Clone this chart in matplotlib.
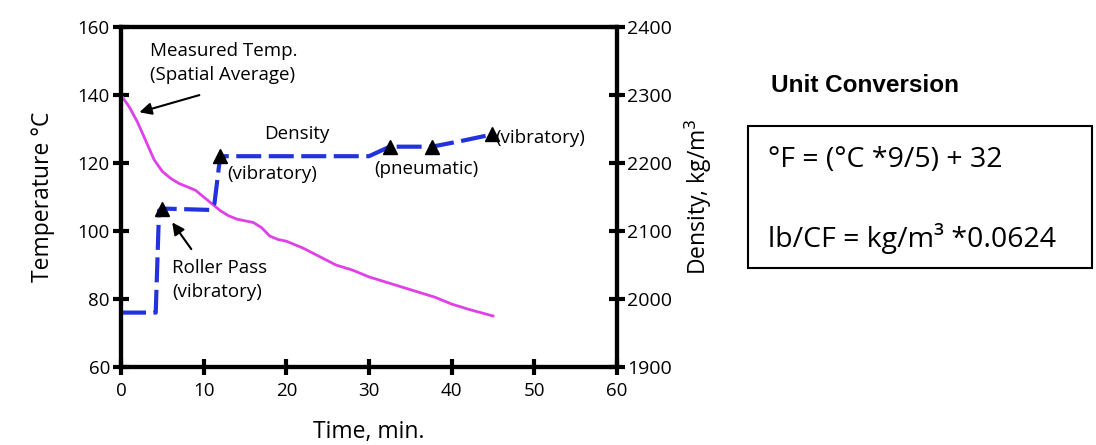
import matplotlib
matplotlib.use("Agg")
import matplotlib.pyplot as plt
from matplotlib.patches import Rectangle

plt.rcParams['font.family'] = ['Open Sans', 'DejaVu Sans']

# temperature (spatial average), deg C
time_temp = [0, 1, 2, 3, 4, 5, 6, 7, 8, 9, 10, 11, 12, 13, 14, 15, 16, 17, 18,
             19, 20, 22, 24, 26, 28, 30, 32, 34, 36, 38, 40, 42, 45]
temp = [140, 136.5, 132, 126.5, 121, 117.5, 115.5, 114, 113, 112, 110, 108,
        106, 104.5, 103.5, 103, 102.5, 101, 98.5, 97.5, 97, 95, 92.5, 90,
        88.5, 86.5, 85, 83.5, 82, 80.5, 78.5, 77, 75]

# density, kg/m3
time_dens = [0, 4.2, 4.6, 5.0, 10.8, 11.3, 12.0, 30.0, 32.5, 37.6, 41.0, 44.9]
dens = [1980, 1980, 2130, 2133, 2131, 2140, 2210, 2210, 2224, 2224, 2232, 2242]

# roller passes
pass_time = [5.0, 12.0, 32.5, 37.6, 44.9]
pass_dens = [2133, 2210, 2224, 2224, 2242]

fig = plt.figure(figsize=(10.96, 4.45), dpi=100)
ax = fig.add_axes([0.1104, 0.1753, 0.4526, 0.764])
ax2 = ax.twinx()

ax.plot(time_temp, temp, color="#e040e8", lw=2, zorder=3)
ax2.plot(time_dens, dens, color="#2233dd", lw=3, dashes=(6, 1.8), zorder=2)
ax2.plot(pass_time, pass_dens, "^", color="black", ms=10, zorder=4)

ax.set_xlim(0, 60)
ax.set_ylim(60, 160)
ax2.set_ylim(1900, 2400)
ax.set_xticks(range(0, 61, 10))
ax.set_yticks(range(60, 161, 20))
ax2.set_yticks(range(1900, 2401, 100))

for a in (ax, ax2):
    for s in a.spines.values():
        s.set_linewidth(3)
ax.tick_params(direction="inout", length=12, width=3, labelsize=13.5, pad=2)
ax.tick_params(axis="x", pad=5)
ax2.tick_params(direction="inout", length=12, width=3, labelsize=14, pad=1)

ax.set_xlabel("Time, min.", fontsize=16.5, labelpad=14)
ax.set_ylabel("Temperature °C", fontsize=16.5, labelpad=16)
ax2.set_ylabel("Density, kg/m$^3$", fontsize=16.5, labelpad=8)

fs = 13.5
ax.text(3.5, 149.5, "Measured Temp.\n(Spatial Average)", fontsize=fs,
        ha="left", va="center", linespacing=1.45)
ax.annotate("", xy=(1.9, 134.7), xytext=(9.8, 140.2),
            arrowprops=dict(arrowstyle="-|>", color="black", lw=1.5,
                            mutation_scale=18))
ax.text(21.3, 128.5, "Density", fontsize=fs, ha="center", va="center")
ax.text(12.8, 116.8, "(vibratory)", fontsize=fs, ha="left", va="center")
ax.text(30.6, 118.3, "(pneumatic)", fontsize=fs, ha="left", va="center")
ax.text(45.3, 127.5, "(vibratory)", fontsize=fs, ha="left", va="center")
ax.text(6.2, 85.5, "Roller Pass\n(vibratory)", fontsize=fs, ha="left",
        va="center", linespacing=1.45)
ax.annotate("", xy=(6.0, 103.2), xytext=(8.7, 94.0),
            arrowprops=dict(arrowstyle="-|>", color="black", lw=1.5,
                            mutation_scale=18))

# unit conversion panel
fig.text(865 / 1096, 1 - 85 / 445, "Unit Conversion", fontsize=17.5,
         fontweight="bold", ha="center", va="center",
         family=["Liberation Sans Narrow", "Liberation Sans", "DejaVu Sans"])
fig.patches.append(Rectangle((748 / 1096, 1 - 268 / 445), 344 / 1096,
                             142 / 445, transform=fig.transFigure,
                             fill=False, edgecolor="black", lw=1.5))
fig.text(768 / 1096, 1 - 160 / 445, "°F = (°C *9/5) + 32", fontsize=20.5,
         ha="left", va="center")
fig.text(768 / 1096, 1 - 238 / 445, "lb/CF = kg/m³ *0.0624", fontsize=20.5,
         ha="left", va="center")

fig.savefig("out.png", dpi=100)
